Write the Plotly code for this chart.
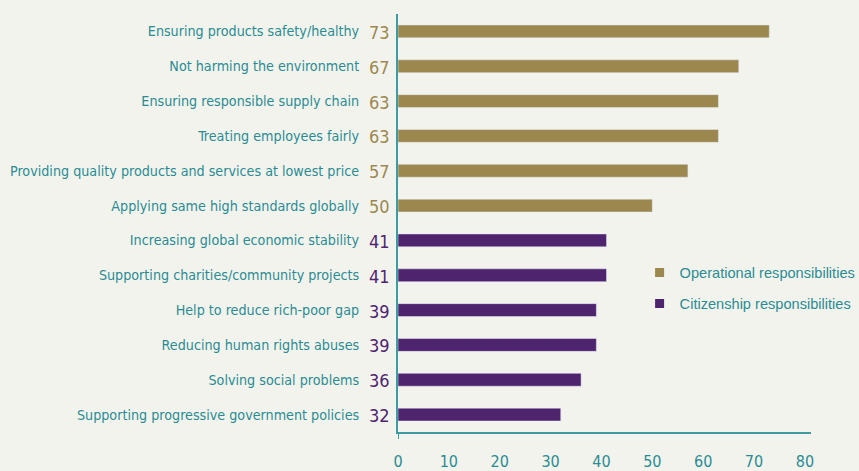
import plotly.graph_objects as go

op_labels = ["Ensuring products safety/healthy", "Not harming the environment",
             "Ensuring responsible supply chain", "Treating employees fairly",
             "Providing quality products and services at lowest price",
             "Applying same high standards globally"]
op_values = [73, 67, 63, 63, 57, 50]
cit_labels = ["Increasing global economic stability", "Supporting charities/community projects",
              "Help to reduce rich-poor gap", "Reducing human rights abuses",
              "Solving social problems", "Supporting progressive government policies"]
cit_values = [41, 41, 39, 39, 36, 32]
x_ticks = [0, 10, 20, 30, 40, 50, 60, 70, 80]

GOLD = "#9c874e"
PURPLE = "#4f246e"
TEAL = "#2a8c92"
AXIS = "#3d9ba1"
BG = "#f3f3ee"
CAT_FONT = "DejaVu Sans Condensed, sans-serif"
NUM_FONT = "DejaVu Sans Condensed, sans-serif"
LEG_FONT = "Liberation Sans, Arial, sans-serif"

fig = go.Figure()
fig.add_trace(go.Bar(x=op_values, y=op_labels, orientation="h", marker_color=GOLD,
                     width=0.37, showlegend=False, hoverinfo="x+y"))
fig.add_trace(go.Bar(x=cit_values, y=cit_labels, orientation="h", marker_color=PURPLE,
                     width=0.37, showlegend=False, hoverinfo="x+y"))
# legend entries
fig.add_trace(go.Scatter(x=[None], y=[None], mode="markers", name="Operational responsibilities",
                         marker=dict(symbol="square", size=9, color=GOLD), legendgroup="a"))
fig.add_trace(go.Scatter(x=[None], y=[None], mode="markers", name="Citizenship responsibilities",
                         marker=dict(symbol="square", size=9, color=PURPLE), legendgroup="b"))

for lab, v in zip(op_labels, op_values):
    fig.add_annotation(x=0, y=lab, xref="x", yref="y", text=str(v), showarrow=False,
                       xanchor="right", xshift=-6, yshift=-1,
                       font=dict(family=NUM_FONT, size=18, color=GOLD))
for lab, v in zip(cit_labels, cit_values):
    fig.add_annotation(x=0, y=lab, xref="x", yref="y", text=str(v), showarrow=False,
                       xanchor="right", xshift=-6, yshift=-1,
                       font=dict(family=NUM_FONT, size=18, color=PURPLE))

# small overhangs of the axis lines at the origin
fig.add_shape(type="line", xref="x", yref="paper", xsizemode="pixel", ysizemode="pixel",
              xanchor=0, yanchor=0, x0=0, x1=0, y0=0, y1=-7,
              line=dict(color=AXIS, width=2))
fig.add_shape(type="line", xref="x", yref="paper", xsizemode="pixel", ysizemode="pixel",
              xanchor=0, yanchor=0, x0=-7, x1=0, y0=0, y1=0,
              line=dict(color=AXIS, width=2))

all_labels = op_labels + cit_labels
fig.update_layout(
    width=859, height=471,
    margin=dict(l=398, r=48, t=14, b=39, autoexpand=False),
    paper_bgcolor=BG, plot_bgcolor=BG,
    barmode="overlay",
    xaxis=dict(range=[0, 81.2], tickvals=x_ticks, showgrid=False, zeroline=False,
               showline=True, linecolor=AXIS, linewidth=2, ticks="", automargin=False,
               ticklabelstandoff=14,
               tickfont=dict(family=CAT_FONT, size=16, color=TEAL)),
    yaxis=dict(categoryorder="array", categoryarray=all_labels, range=[11.5, -0.5],
               showgrid=False, zeroline=False, showline=True, linecolor=AXIS, linewidth=2,
               ticks="", ticklabelstandoff=34, automargin=False,
               tickfont=dict(family=CAT_FONT, size=14.2, color=TEAL)),
    legend=dict(x=0.585, y=0.42, xanchor="left", yanchor="top", bgcolor="rgba(0,0,0,0)",
                font=dict(family=LEG_FONT, size=14.6, color=TEAL),
                traceorder="grouped", tracegroupgap=9, itemwidth=30),
    showlegend=True,
)
fig.write_html("out.html")
